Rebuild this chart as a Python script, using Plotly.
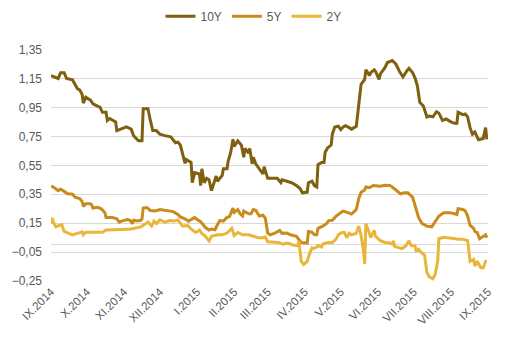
import pandas as pd
import plotly.graph_objects as go

start = pd.Timestamp("2014-09-01")

# day offsets from 1 Sep 2014 and yields (%)
day10 = [0,4,6,8,11,13,18,20,22,24,26,27,29,33,35,41,43,46,47,49,54,55,59,63,67,69,73,76,77,81,83,85,88,91,95,100,104,106,108,112,113,117,118,120,124,125,126,128,130,132,134,136,138,139,143,144,147,148,150,152,153,156,157,159,161,162,165,166,168,169,171,174,177,178,181,185,189,192,193,197,201,205,208,210,214,215,218,220,222,223,226,228,229,231,234,235,237,240,242,244,246,249,251,255,257,259,262,263,266,267,270,271,274,275,279,281,285,288,291,294,297,299,302,304,306,308,311,314,316,319,322,324,327,330,334,337,339,340,344,346,348,350,352,354,357,361,363,364]
y10 = [1.17,1.16,1.15,1.19,1.19,1.15,1.14,1.11,1.08,1.07,1.04,0.98,1.02,1.00,0.975,0.95,0.916,0.916,0.86,0.873,0.85,0.79,0.80,0.815,0.80,0.754,0.72,0.72,0.94,0.94,0.86,0.79,0.79,0.765,0.755,0.747,0.706,0.71,0.69,0.563,0.59,0.57,0.43,0.50,0.49,0.41,0.526,0.43,0.46,0.45,0.375,0.43,0.476,0.44,0.48,0.526,0.526,0.58,0.635,0.73,0.68,0.72,0.71,0.69,0.606,0.667,0.635,0.667,0.56,0.605,0.56,0.526,0.49,0.54,0.46,0.46,0.46,0.43,0.45,0.44,0.43,0.41,0.39,0.36,0.365,0.43,0.44,0.41,0.40,0.555,0.57,0.57,0.64,0.67,0.69,0.765,0.815,0.82,0.797,0.815,0.823,0.81,0.80,0.82,0.95,1.11,1.144,1.21,1.17,1.19,1.21,1.20,1.144,1.18,1.226,1.26,1.274,1.25,1.20,1.16,1.20,1.22,1.19,1.155,1.10,0.986,0.96,0.884,0.89,0.885,0.92,0.91,0.86,0.87,0.85,0.84,0.84,0.916,0.90,0.905,0.885,0.81,0.765,0.78,0.727,0.735,0.81,0.73]

day5 = [0,2,6,8,11,14,18,20,24,26,27,29,33,34,35,39,42,45,46,51,55,57,59,64,66,68,69,72,75,76,77,80,83,87,91,95,102,106,108,112,115,117,120,122,125,129,132,134,137,139,141,144,147,149,152,153,156,158,160,161,165,167,169,171,174,177,179,181,183,187,191,193,197,200,205,209,214,215,218,220,222,223,227,230,232,235,238,242,244,248,251,255,257,259,262,263,266,269,275,279,283,285,289,292,295,298,302,304,307,310,314,318,321,324,328,333,337,339,340,344,346,348,350,353,354,356,358,361,363,364]
y5 = [0.407,0.40,0.375,0.385,0.37,0.354,0.35,0.33,0.32,0.30,0.266,0.285,0.285,0.277,0.255,0.26,0.25,0.223,0.19,0.19,0.18,0.158,0.165,0.175,0.17,0.147,0.17,0.165,0.17,0.18,0.255,0.258,0.238,0.235,0.245,0.238,0.23,0.21,0.194,0.18,0.164,0.175,0.19,0.175,0.16,0.12,0.103,0.11,0.105,0.14,0.168,0.165,0.19,0.195,0.255,0.225,0.245,0.215,0.20,0.234,0.215,0.215,0.245,0.24,0.20,0.205,0.185,0.082,0.07,0.082,0.10,0.08,0.082,0.07,0.06,0.017,0.013,0.093,0.088,0.07,0.07,0.115,0.13,0.147,0.168,0.17,0.198,0.223,0.234,0.223,0.213,0.245,0.32,0.364,0.38,0.40,0.395,0.41,0.405,0.412,0.41,0.40,0.375,0.353,0.36,0.36,0.33,0.277,0.19,0.147,0.13,0.125,0.16,0.20,0.223,0.223,0.215,0.21,0.25,0.245,0.235,0.20,0.136,0.115,0.093,0.085,0.043,0.06,0.07,0.05]

day2 = [0,1,2,4,7,9,11,14,18,22,26,27,29,35,43,46,51,59,67,71,75,79,81,84,86,88,91,95,99,103,106,110,114,118,121,124,126,129,132,134,139,143,147,151,153,156,160,165,169,173,177,179,181,185,190,194,198,202,206,207,208,209,211,214,216,218,219,222,223,226,227,231,235,238,240,243,245,247,249,251,255,257,259,261,262,263,266,267,270,271,275,279,283,285,286,287,291,293,296,299,301,304,305,307,310,312,314,316,319,321,323,324,328,334,338,340,344,348,349,350,353,354,356,359,361,363,364]
y2 = [0.147,0.186,0.16,0.125,0.135,0.14,0.093,0.085,0.07,0.08,0.09,0.07,0.088,0.088,0.088,0.103,0.103,0.107,0.11,0.12,0.125,0.147,0.158,0.13,0.165,0.147,0.173,0.158,0.168,0.165,0.173,0.13,0.135,0.103,0.086,0.103,0.08,0.06,0.027,0.06,0.07,0.07,0.082,0.115,0.065,0.086,0.07,0.07,0.06,0.05,0.05,0.055,0.022,0.022,0.017,0.006,0.013,0.0,-0.005,0.028,-0.05,-0.113,-0.135,-0.113,-0.06,-0.02,-0.025,-0.015,-0.005,-0.015,0.006,0.017,0.017,0.04,0.07,0.086,0.086,0.05,0.08,0.07,0.08,0.13,0.065,-0.04,-0.13,0.147,0.08,0.05,0.10,0.06,0.03,0.017,0.013,0.006,0.028,-0.01,-0.02,-0.025,-0.01,0.028,-0.005,-0.005,-0.04,-0.03,-0.058,-0.07,-0.19,-0.22,-0.233,-0.20,-0.11,0.043,0.053,0.05,0.043,0.04,0.04,0.03,-0.06,-0.113,-0.10,-0.146,-0.113,-0.157,-0.157,-0.113,-0.115]

series_names = ["10Y", "5Y", "2Y"]
series_colors = ["#7f5f10", "#c98b1c", "#e9b63a"]

month_ticks = pd.date_range("2014-09-01", "2015-09-01", freq="MS")
month_labels = ["IX.2014", "X.2014", "XI.2014", "XII.2014", "I.2015", "II.2015", "III.2015",
                "IV.2015", "V.2015", "VI.2015", "VII.2015", "VIII.2015", "IX.2015"]
y_ticks = [-0.25, -0.05, 0.15, 0.35, 0.55, 0.75, 0.95, 1.15, 1.35]


def to_dates(days):
    return [start + pd.Timedelta(days=d) for d in days]


fig = go.Figure()
for name, color, dd, yy in zip(series_names, series_colors, [day10, day5, day2], [y10, y5, y2]):
    fig.add_trace(go.Scatter(x=to_dates(dd), y=yy, mode="lines", name=name,
                             line=dict(color=color, width=3)))

fig.update_layout(
    width=507, height=341,
    margin=dict(l=40, r=19, t=35, b=59),
    paper_bgcolor="white", plot_bgcolor="white",
    separators=", ",
    font=dict(family="Arial, Liberation Sans, sans-serif", size=12, color="#595959"),
    showlegend=True,
    legend=dict(orientation="h", xref="container", x=0.5, xanchor="center",
                yref="container", y=0.995, yanchor="top",
                font=dict(size=12, color="#595959"), itemwidth=30,
                tracegroupgap=0, bgcolor="rgba(0,0,0,0)"),
    xaxis=dict(range=[month_ticks[0], month_ticks[-1]], tickvals=list(month_ticks),
               ticktext=month_labels, tickangle=-45, showgrid=False, showline=False,
               zeroline=False, ticks="", tickfont=dict(size=11.5, color="#595959")),
    yaxis=dict(range=[-0.256, 1.35], tickvals=y_ticks, tickformat=".2f",
               showgrid=True, gridcolor="#d9d9d9", gridwidth=1,
               zeroline=True, zerolinecolor="#d9d9d9", zerolinewidth=1,
               showline=False, ticks="", ticklabelstandoff=8,
               tickfont=dict(size=12, color="#595959")),
)

fig.write_html("out.html")
